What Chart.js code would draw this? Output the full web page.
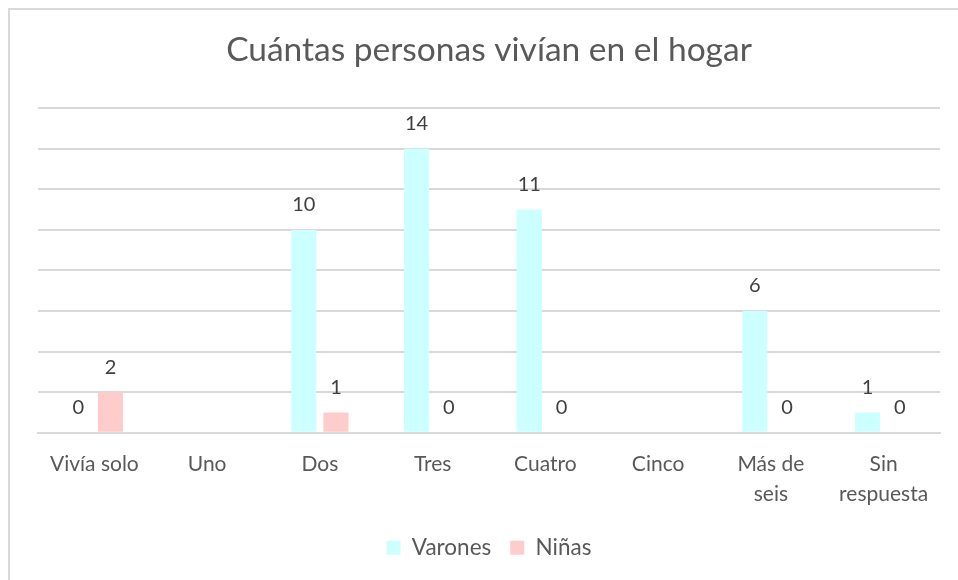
<!DOCTYPE html>
<html>
<head>
<meta charset="utf-8">
<script src="https://cdn.jsdelivr.net/npm/chart.js@4"></script>
<style>
  html, body { margin: 0; padding: 0; background: #fff; }
  #wrap { width: 958px; height: 580px; position: relative; }
</style>
</head>
<body>
<div id="wrap"><canvas id="hogarChart" width="958" height="580"></canvas></div>
<script>
// data
const categories = ['Vivía solo', 'Uno', 'Dos', 'Tres', 'Cuatro', 'Cinco', ['Más de', 'seis'], ['Sin', 'respuesta']];
const varones = [0, null, 10, 14, 11, null, 6, 1];
const ninas = [2, null, 1, 0, 0, null, 0, 0];

// frame round the chart (left and top edges visible)
const framePlugin = {
    id: 'frame',
    beforeDraw(chart) {
        const c = chart.ctx;
        c.save();
        c.fillStyle = '#ffffff';
        c.fillRect(0, 0, chart.width, chart.height);
        c.strokeStyle = '#d9d9d9';
        c.lineWidth = 2;
        c.beginPath();
        c.moveTo(9, chart.height);
        c.lineTo(9, 9);
        c.lineTo(chart.width, 9);
        c.stroke();
        c.restore();
    }
};

// value labels over each bar
const valueLabels = {
    id: 'valueLabels',
    afterDatasetsDraw(chart) {
        const c = chart.ctx;
        c.save();
        c.font = '20px Lato';
        c.fillStyle = '#404040';
        c.textAlign = 'center';
        c.textBaseline = 'middle';
        chart.data.datasets.forEach((ds, i) => {
            const meta = chart.getDatasetMeta(i);
            meta.data.forEach((bar, j) => {
                const v = ds.data[j];
                if (v === null || v === undefined) return;
                c.fillText(String(v), bar.x, bar.y - 25);
            });
        });
        c.restore();
    }
};

const ctx = document.getElementById('hogarChart').getContext('2d');
const hogarChart = new Chart(ctx, {
    type: 'bar',
    data: {
        labels: categories,
        datasets: [
            {
                label: 'Varones',
                data: varones,
                backgroundColor: '#ccffff',
                categoryPercentage: 0.57,
                barPercentage: 0.78
            },
            {
                label: 'Niñas',
                data: ninas,
                backgroundColor: '#ffcccc',
                categoryPercentage: 0.57,
                barPercentage: 0.78
            }
        ]
    },
    options: {
        responsive: false,
        animation: false,
        layout: {
            padding: { left: 38, right: 18, top: 4, bottom: 11 }
        },
        plugins: {
            title: {
                display: true,
                text: 'Cuántas personas vivían en el hogar',
                color: '#595959',
                font: { family: 'Lato', size: 33.5, weight: 'normal' },
                padding: { top: 26.5, bottom: 37.5 }
            },
            legend: {
                position: 'bottom',
                labels: {
                    color: '#595959',
                    font: { family: 'Lato', size: 22.5 },
                    boxWidth: 14,
                    boxHeight: 14,
                    padding: 19
                }
            },
            tooltip: { enabled: false }
        },
        scales: {
            x: {
                grid: { display: false },
                border: { color: '#d9d9d9', width: 2 },
                ticks: {
                    color: '#595959',
                    font: { family: 'Lato', size: 21, lineHeight: 1.4 },
                    padding: 9,
                    maxRotation: 0,
                    autoSkip: false
                }
            },
            y: {
                min: 0,
                max: 16,
                ticks: { display: false, stepSize: 2 },
                grid: { color: '#d9d9d9', lineWidth: 2, drawTicks: false },
                border: { display: false }
            }
        }
    },
    plugins: [framePlugin, valueLabels]
});
</script>
</body>
</html>
